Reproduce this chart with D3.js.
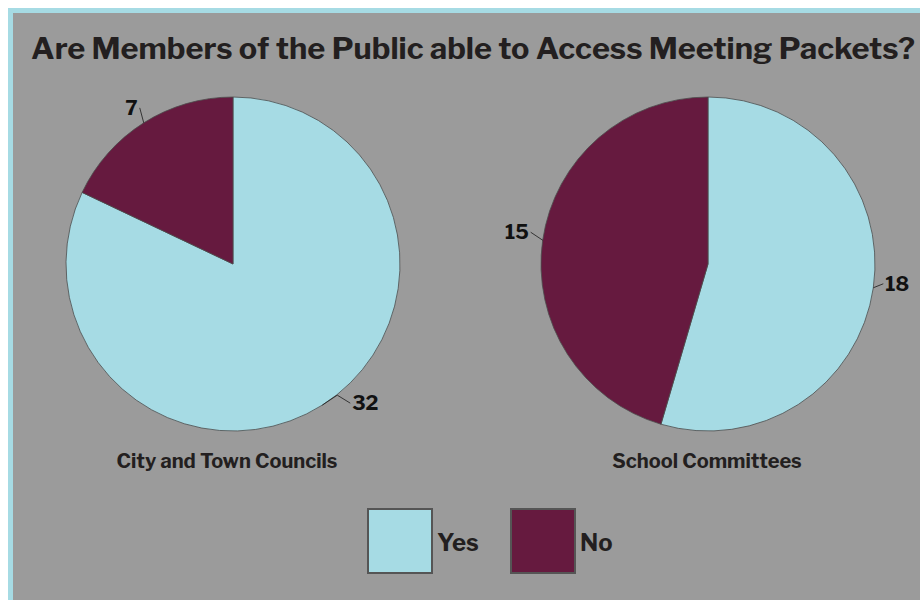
<!DOCTYPE html>
<html>
<head>
<meta charset="utf-8">
<script src="https://cdn.jsdelivr.net/npm/d3@7"></script>
<style>
  html, body { margin: 0; padding: 0; background: #fff; }
  svg { display: block; }
  text { font-family: "Libre Franklin", Inter, "Liberation Sans", sans-serif; font-weight: 700; }
</style>
</head>
<body>
<svg id="chart" width="920" height="600"></svg>
<script>
  var categories = ['Yes', 'No'];
  var councils = [32, 7];
  var committees = [18, 15];
  var pieTitles = ['City and Town Councils', 'School Committees'];
  var title = 'Are Members of the Public able to Access Meeting Packets?';

  var colors = d3.scaleOrdinal().domain(categories).range(['#a6dbe4', '#661a3f']);

  var svg = d3.select('#chart');

  // frame: white edge, light blue border on top / left, gray panel
  svg.append('rect').attr('x', 8).attr('y', 8).attr('width', 912).attr('height', 592).attr('fill', '#a6dbe4');
  svg.append('rect').attr('x', 13).attr('y', 13).attr('width', 907).attr('height', 587).attr('fill', '#9b9b9b');

  svg.append('text')
    .attr('x', 31).attr('y', 59)
    .attr('font-size', 30)
    .attr('fill', '#231f20')
    .attr('textLength', 884)
    .attr('lengthAdjust', 'spacingAndGlyphs')
    .text(title);

  var radius = 167;
  var pie = d3.pie().sort(null).value(function (d) { return d; });
  var arc = d3.arc().innerRadius(0).outerRadius(radius);

  // label offsets (dx, dy) from the arc edge point, per chart / slice
  var labelSpots = [
    [{ dx: 38, dy: -2, bend: [15, -10] }, { dx: -12, dy: -15 }],
    [{ dx: 20, dy: -4 }, { dx: -20, dy: -8 }]
  ];

  var pies = [
    { values: councils, cx: 233, cy: 264, name: pieTitles[0], nameX: 227 },
    { values: committees, cx: 708, cy: 264, name: pieTitles[1], nameX: 707 }
  ];

  pies.forEach(function (p, i) {
    var g = svg.append('g').attr('transform', 'translate(' + p.cx + ',' + p.cy + ')');
    var arcs = pie(p.values);

    g.selectAll('path.slice')
      .data(arcs)
      .enter().append('path')
      .attr('class', 'slice')
      .attr('d', arc)
      .attr('fill', function (d, j) { return colors(categories[j]); })
      .attr('stroke', '#4d4d4d')
      .attr('stroke-width', 0.8);

    arcs.forEach(function (d, j) {
      var mid = (d.startAngle + d.endAngle) / 2;
      var ex = Math.sin(mid) * radius;
      var ey = -Math.cos(mid) * radius;
      var spot = labelSpots[i][j];
      var lx = ex + spot.dx;
      var ly = ey + spot.dy;
      var pts = [[ex, ey]];
      if (spot.bend) { pts.push([ex + spot.bend[0], ey + spot.bend[1]]); }
      var right = spot.dx > 0;
      pts.push([lx + (right ? -10 : 8), ly]);
      g.append('path')
        .attr('d', d3.line()(pts))
        .attr('fill', 'none')
        .attr('stroke', '#1a1a1a')
        .attr('stroke-width', 0.8);
      g.append('text')
        .attr('x', lx + (right ? -8 : 6))
        .attr('y', ly + 7)
        .attr('text-anchor', right ? 'start' : 'end')
        .attr('font-size', 20)
        .attr('fill', '#111')
        .text(d.data);
    });

    svg.append('text')
      .attr('x', p.nameX).attr('y', 468)
      .attr('text-anchor', 'middle')
      .attr('font-size', 20)
      .attr('fill', '#231f20')
      .text(p.name);
  });

  // legend
  var legend = svg.append('g');
  var legendX = d3.scaleOrdinal().domain(categories).range([368, 511]);
  var items = legend.selectAll('g').data(categories).enter().append('g')
    .attr('transform', function (d) { return 'translate(' + legendX(d) + ',509)'; });
  items.append('rect')
    .attr('width', 64).attr('height', 64)
    .attr('fill', function (d) { return colors(d); })
    .attr('stroke', '#555')
    .attr('stroke-width', 2);
  items.append('text')
    .attr('x', 69).attr('y', 42)
    .attr('font-size', 24)
    .attr('fill', '#231f20')
    .text(function (d) { return d; });
</script>
</body>
</html>
